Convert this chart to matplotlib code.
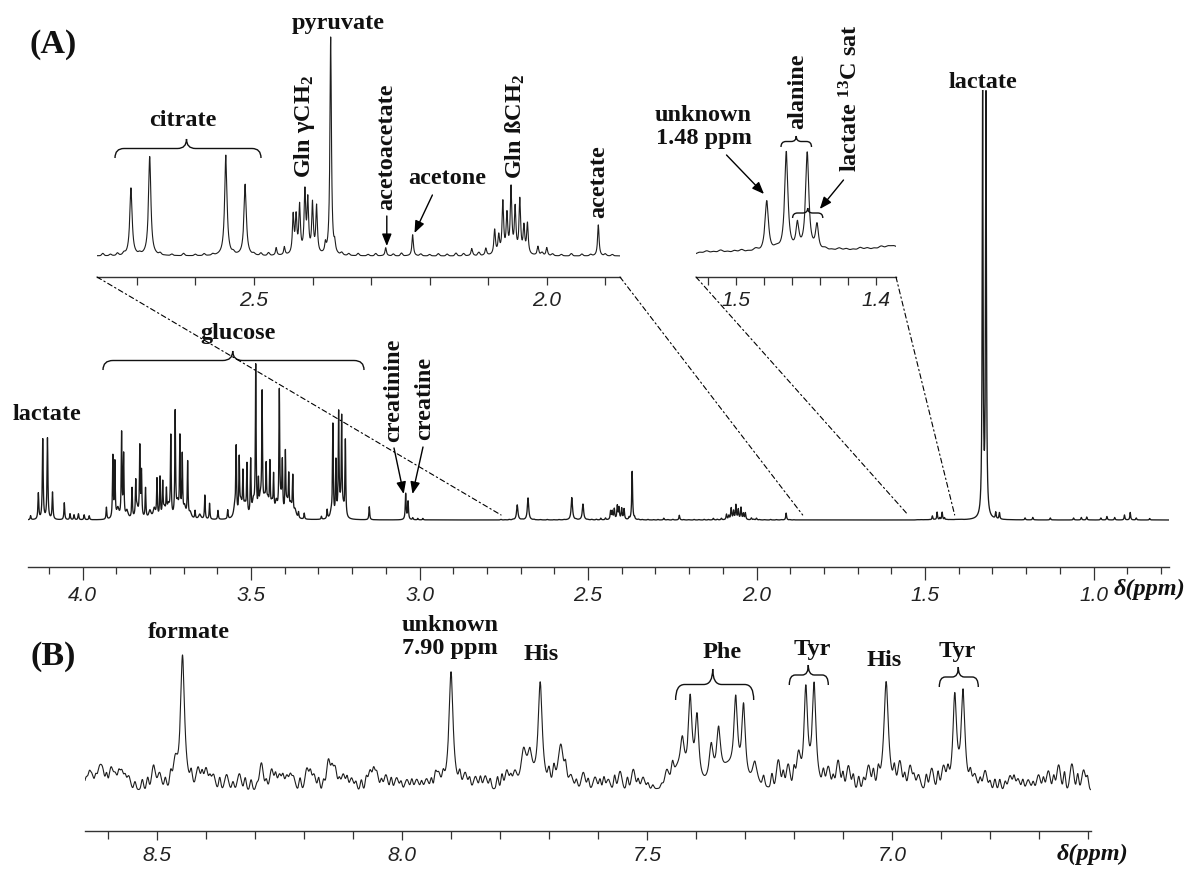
import numpy as np
import matplotlib
matplotlib.use("Agg")
import matplotlib.pyplot as plt
from matplotlib.patches import ConnectionPatch, PathPatch
from matplotlib.path import Path
from matplotlib.ticker import MultipleLocator, FormatStrFormatter

plt.rcParams["font.family"] = ["Liberation Serif", "DejaVu Serif"]
plt.rcParams["mathtext.fontset"] = "custom"
plt.rcParams["mathtext.bf"] = "Liberation Serif:bold"
plt.rcParams["mathtext.rm"] = "Liberation Serif:bold"

W, H = 1192, 869

# ---- panel A peak lists (ppm, height on the main trace) ----
lactate_ppm = [4.131, 4.118, 4.104, 4.089, 1.329, 1.319]
lactate_h = [26, 80, 81, 27, 423, 420]

glucose_ppm = [3.929, 3.910, 3.904, 3.884, 3.878, 3.853, 3.842, 3.830, 3.825, 3.813,
               3.779, 3.770, 3.762, 3.751, 3.738, 3.725, 3.711, 3.704, 3.688, 3.666,
               3.637, 3.623, 3.598, 3.569, 3.544, 3.535, 3.524, 3.512, 3.501, 3.486,
               3.478, 3.467, 3.455, 3.444, 3.433, 3.416, 3.407, 3.398, 3.388, 3.376,
               3.359, 3.342, 3.291, 3.274, 3.257, 3.248, 3.240, 3.231, 3.220]
glucose_h = [12, 62, 55, 84, 62, 30, 34, 70, 45, 30,
             38, 40, 33, 24, 80, 104, 78, 60, 55, 8,
             24, 16, 9, 9, 66, 55, 40, 50, 55, 148,
             30, 116, 42, 48, 36, 120, 48, 60, 36, 38,
             6, 6, 3, 9, 92, 55, 100, 95, 76]
# broader overlapping lines under the glucose multiplets
glucose_fill_ppm = [3.895, 3.868, 3.838, 3.800, 3.787, 3.757, 3.745, 3.718, 3.697, 3.680,
                    3.652, 3.548, 3.530, 3.518, 3.493, 3.472, 3.460, 3.450, 3.438, 3.425,
                    3.411, 3.393, 3.382, 3.369, 3.262, 3.236, 3.226]
glucose_fill_h = [10, 8, 10, 8, 10, 9, 12, 14, 11, 6,
                  5, 12, 14, 12, 15, 17, 15, 14, 12, 14,
                  15, 13, 12, 8, 6, 10, 8]

citrate_ppm = [2.710, 2.678, 2.548, 2.515]
citrate_h = [15.0, 22.0, 22.3, 15.8]

gln_ppm = [2.433, 2.428, 2.422, 2.413, 2.408, 2.400, 2.393,
           2.128, 2.104, 2.089, 2.082, 2.075, 2.068, 2.061, 2.054, 2.046, 2.039, 2.033, 2.015, 2.000]
gln_h = [8.5, 8.0, 10.5, 13.5, 11.5, 11.0, 10.5,
         1.6, 1.6, 5.5, 4.0, 11.5, 8.5, 14.5, 10.0, 12.0, 6.0, 6.8, 2.0, 1.8]

# pyruvate, acetoacetate, acetone, acetate, creatinine, creatine, unknown 1.48
singlet_ppm = [2.369, 2.275, 2.229, 1.912, 3.041, 3.034, 1.478]
singlet_h = [48.4, 1.8, 4.7, 6.9, 26, 18, 4.0]

alanine_ppm = [1.464, 1.449]
alanine_h = [7.7, 7.6]
lac_sat_ppm = [1.456, 1.442]
lac_sat_h = [2.0, 2.0]

small_ppm = [4.154, 4.054, 4.037, 4.025, 4.012, 3.995, 3.980, 3.149, 3.020, 3.005,
             2.990, 2.462, 2.448, 2.378, 2.362, 1.290, 1.279, 1.203, 1.180, 1.128,
             1.059, 1.036, 1.020, 0.978, 0.960, 0.937, 0.908, 0.891, 0.873, 0.833]
small_h = [4, 17, 6, 5, 6, 5, 4, 13, 2, 1.5,
           1.5, 1.7, 1.8, 2, 2, 6.5, 6.5, 2, 2.5, 2,
           2, 2.5, 3, 2, 3.5, 2.5, 5, 7.5, 2, 1.5]

# baseline ripple visible in the expansions
ripple_ppm = [2.758, 2.745, 2.733, 2.722, 2.695, 2.660, 2.640, 2.620, 2.600, 2.585,
              2.570, 2.535, 2.500, 2.488, 2.475, 2.350, 2.338, 2.322, 2.305, 2.292,
              2.262, 2.248, 2.215, 2.200, 2.185, 2.170, 2.155, 2.142, 2.116, 2.008,
              1.990, 1.975, 1.958, 1.940, 1.925, 1.900, 1.888,
              1.526, 1.521, 1.516, 1.511, 1.506, 1.501, 1.496, 1.491, 1.486, 1.471,
              1.436, 1.431, 1.426, 1.421, 1.416, 1.411, 1.406, 1.401, 1.396, 1.391, 1.387]
ripple_h = [0.5, 0.3, 0.5, 0.4, 0.3, 0.4, 0.3, 0.5, 0.3, 0.4,
            0.3, 0.4, 0.3, 0.5, 0.6, 0.5, 0.4, 0.5, 0.3, 0.5,
            0.4, 0.6, 0.4, 0.3, 0.5, 0.4, 0.6, 0.5, 0.7, 0.6,
            0.4, 0.3, 0.5, 0.4, 0.3, 0.4, 0.3,
            0.15, 0.25, 0.2, 0.3, 0.2, 0.25, 0.3, 0.2, 0.3, 0.25,
            0.25, 0.2, 0.3, 0.25, 0.2, 0.3, 0.25, 0.2, 0.3, 0.25, 0.2]

# ---- panel B (aromatic region) ----
b_peak_ppm = [8.448, 7.900, 7.752, 7.739, 7.718, 7.676, 7.428, 7.412, 7.398, 7.369,
              7.354, 7.319, 7.303, 7.280, 7.176, 7.159, 7.012, 6.872, 6.855]
b_peak_h = [135, 118, 30, 24, 104, 44, 36, 84, 66, 38,
            52, 80, 78, 24, 98, 101, 108, 91, 95]
b_peak_w = [0.005, 0.005, 0.006, 0.005, 0.005, 0.007, 0.005, 0.0045, 0.0045, 0.005,
            0.005, 0.0045, 0.0045, 0.006, 0.0045, 0.0045, 0.0055, 0.0045, 0.0045]
b_hump_ppm = [7.440, 7.335, 7.745]
b_hump_h = [16, 16, 8]
b_noise_ppm = [8.644, 8.633, 8.618, 8.611, 8.594, 8.585, 8.572, 8.558, 8.507, 8.495,
               8.463, 8.416, 8.400, 8.385, 8.358, 8.332, 8.287, 8.266, 8.250, 8.235,
               8.222, 8.194, 8.180, 8.150, 8.137, 8.120, 8.103, 8.065, 8.052, 8.033,
               8.011, 7.990, 7.970, 7.950, 7.926, 7.871, 7.850, 7.830, 7.786, 7.770,
               7.655, 7.630, 7.606, 7.579, 7.555, 7.528, 7.508, 7.460, 7.232, 7.212,
               7.191, 7.130, 7.110, 7.089, 7.048, 6.984, 6.963, 6.946, 6.919, 6.895,
               6.831, 6.810, 6.759, 6.743, 6.722, 6.701, 6.681, 6.660, 6.633, 6.609]
b_noise_h = [13, 16, 20, 19, 22, 16, 20, 14, 24, 16,
             22, 20, 21, 15, 15, 16, 27, 21, 16, 15,
             14, 22, 16, 31, 24, 16, 12, 20, 19, 15,
             12, 10, 10, 10, 14, 14, 12, 13, 18, 14,
             10, 16, 12, 10, 18, 20, 12, 14, 28, 23,
             29, 20, 28, 23, 22, 25, 23, 14, 20, 20,
             12, 18, 14, 11, 10, 15, 19, 25, 26, 20]
# finer jitter riding on the baseline
b_jitter_ppm = [8.638, 8.625, 8.603, 8.578, 8.565, 8.545, 8.530, 8.519, 8.483, 8.472,
                8.430, 8.408, 8.392, 8.372, 8.345, 8.320, 8.308, 8.296, 8.277, 8.258,
                8.243, 8.228, 8.208, 8.187, 8.170, 8.160, 8.143, 8.128, 8.112, 8.094,
                8.083, 8.073, 8.058, 8.042, 8.022, 8.002, 7.980, 7.960, 7.940, 7.932,
                7.916, 7.882, 7.862, 7.840, 7.820, 7.805, 7.796, 7.778, 7.700, 7.690,
                7.666, 7.644, 7.620, 7.596, 7.588, 7.566, 7.540, 7.518, 7.498, 7.488,
                7.470, 7.448, 7.262, 7.245, 7.222, 7.200, 7.140, 7.120, 7.100, 7.079,
                7.068, 7.058, 7.038, 7.028, 6.995, 6.974, 6.955, 6.930, 6.906, 6.886,
                6.840, 6.820, 6.800, 6.790, 6.780, 6.769, 6.751, 6.733, 6.712, 6.691,
                6.670, 6.648, 6.621, 6.601]
b_jitter_h = [9, 11, 14, 12, 10, 8, 10, 12, 10, 14,
              12, 14, 10, 12, 8, 12, 10, 6, 10, 14,
              12, 10, 12, 14, 12, 10, 14, 10, 12, 8,
              10, 12, 14, 10, 12, 8, 10, 8, 10, 12,
              10, 12, 10, 12, 10, 12, 14, 10, 12, 14,
              14, 8, 10, 10, 12, 14, 12, 10, 6, 4,
              4, 12, 10, 14, 16, 18, 14, 12, 16, 14,
              12, 10, 16, 14, 16, 14, 12, 14, 16, 14,
              12, 10, 8, 10, 10, 8, 12, 10, 8, 12,
              14, 18, 16, 12]


def lorentz(x, ppm, h, w):
    y = np.zeros_like(x)
    ws = np.broadcast_to(np.asarray(w, dtype=float), (len(ppm),))
    for p, a, hw in zip(ppm, h, ws):
        y += a * hw**2 / ((x - p) ** 2 + hw**2)
    return y


def gauss(x, ppm, h, s):
    y = np.zeros_like(x)
    for p, a in zip(ppm, h):
        y += a * np.exp(-((x - p) ** 2) / (2 * s**2))
    return y


def panel_a(x):
    y = lorentz(x, lactate_ppm, lactate_h, 0.0015)
    y += lorentz(x, glucose_ppm, glucose_h, 0.0013)
    y += lorentz(x, glucose_fill_ppm, glucose_fill_h, 0.004)
    y += lorentz(x, citrate_ppm, citrate_h, 0.0024)
    y += lorentz(x, gln_ppm, gln_h, 0.0016)
    y += lorentz(x, singlet_ppm, singlet_h, 0.0015)
    y += lorentz(x, alanine_ppm, alanine_h, 0.0014)
    y += lorentz(x, lac_sat_ppm, lac_sat_h, 0.0013)
    y += lorentz(x, small_ppm, small_h, 0.0014)
    y += gauss(x, ripple_ppm, ripple_h, 0.0018)
    return y


def panel_b(x):
    y = lorentz(x, b_peak_ppm, b_peak_h, b_peak_w)
    y += gauss(x, b_hump_ppm, b_hump_h, 0.012)
    y += gauss(x, b_noise_ppm, b_noise_h, 0.0038)
    y += gauss(x, b_jitter_ppm, b_jitter_h, 0.0022)
    return y


fig = plt.figure(figsize=(W / 100, H / 100), dpi=100)


def px_axes(x0, y0, x1, y1):
    ax = fig.add_axes([x0 / W, 1 - y1 / H, (x1 - x0) / W, (y1 - y0) / H])
    ax.patch.set_alpha(0)
    for s in ("left", "right", "top"):
        ax.spines[s].set_visible(False)
    ax.spines["bottom"].set_color("#333333")
    ax.spines["bottom"].set_linewidth(1.0)
    ax.set_yticks([])
    return ax


def style_ticks(ax, major, minor, maj_len, min_len, size):
    ax.xaxis.set_major_locator(MultipleLocator(major))
    ax.xaxis.set_minor_locator(MultipleLocator(minor))
    ax.xaxis.set_major_formatter(FormatStrFormatter("%.1f"))
    ax.tick_params(axis="x", which="major", direction="out", length=maj_len,
                   width=0.9, color="#333333", pad=4, labelsize=size,
                   labelcolor="#222222")
    ax.tick_params(axis="x", which="minor", direction="out", length=min_len,
                   width=0.9, color="#333333")
    for lab in ax.get_xticklabels():
        lab.set_family("Liberation Sans")
        lab.set_fontstyle("italic")


line_kw = dict(color="#1e1e1e", lw=0.8)

# main trace of panel A
ax = px_axes(27.6, 90, 1169, 567)
xa = np.linspace(0.776, 4.163, 60000)
ax.plot(xa, panel_a(xa), color="#1a1a1a", lw=0.95)
ax.set_xlim(4.163, 0.776)
ax.set_ylim(-47, 430)
style_ticks(ax, 0.5, 0.1, 9.4, 5.0, 15)

# expansion 2.77 - 1.87 ppm (x4.5)
ax1 = px_axes(97, 30, 620, 277)
x1 = np.linspace(1.875, 2.768, 20000)
ax1.plot(x1, panel_a(x1), **line_kw)
ax1.set_xlim(2.768, 1.875)
ax1.set_ylim(-21 / 4.5, 226 / 4.5)
style_ticks(ax1, 0.5, 0.1, 5.8, 5.8, 15)

# expansion 1.53 - 1.385 ppm (x13)
ax2 = px_axes(696, 30, 896, 277)
x2 = np.linspace(1.3854, 1.5287, 8000)
ax2.plot(x2, panel_a(x2), **line_kw)
ax2.set_xlim(1.5287, 1.3854)
ax2.set_ylim(-22 / 13, 225 / 13)
style_ticks(ax2, 0.1, 0.02, 5.8, 5.8, 15)

# panel B
axb = px_axes(85, 640, 1090.5, 831)
xb = np.linspace(6.595, 8.647, 30000)
axb.plot(xb, panel_b(xb), **line_kw)
axb.set_xlim(8.647, 6.595)
axb.set_ylim(-41, 150)
style_ticks(axb, 0.5, 0.1, 6.5, 5.5, 15)

# dash-dot zoom guides: expansion edges -> main trace
dashdot = (0, (4.5, 2.7, 1.3, 2.7))
for axi, fx, ppm in [(ax1, 0, 2.758), (ax1, 1, 1.863), (ax2, 0, 1.55), (ax2, 1, 1.412)]:
    con = ConnectionPatch(xyA=(fx, 0), coordsA="axes fraction", axesA=axi,
                          xyB=(ppm, 5), coordsB="data", axesB=ax,
                          color="k", lw=0.8, linestyle=dashdot)
    fig.add_artist(con)

# annotation layer in pixel coordinates
ov = fig.add_axes([0, 0, 1, 1])
ov.set_xlim(0, W)
ov.set_ylim(H, 0)
ov.axis("off")
ov.patch.set_alpha(0)

lab = dict(family="Liberation Serif", weight="bold", size=17.5, color="#111111",
           ha="center", va="center")
big = dict(lab, size=24.5)

ov.text(53.5, 45, "(A)", **big)
ov.text(53, 657, "(B)", **big)

ov.text(338, 24, "pyruvate", **lab)
ov.text(183, 121, "citrate", **lab)
ov.text(304.5, 127, r"Gln γCH$\mathbf{_2}$", rotation=90, **lab)
ov.text(387, 147, "acetoacetate", rotation=90, **lab)
ov.text(447, 178, "acetone", **lab)
ov.text(515, 127, r"Gln ßCH$\mathbf{_2}$", rotation=90, **lab)
ov.text(599, 182, "acetate", rotation=90, **lab)
ov.text(703.5, 127, "unknown\n1.48 ppm", linespacing=1.1, **lab)
ov.text(798, 91, "alanine", rotation=90, **lab)
ov.text(851, 98, r"lactate $\mathbf{^{13}}$C sat", rotation=90, **lab)
ov.text(983, 83, "lactate", **lab)
ov.text(47, 414, "lactate", **lab)
ov.text(238, 333, "glucose", **lab)
ov.text(394, 390, "creatinine", rotation=90, **lab)
ov.text(425, 398, "creatine", rotation=90, **lab)

ov.text(189, 633, "formate", **lab)
ov.text(450, 637, "unknown\n7.90 ppm", linespacing=1.1, **lab)
ov.text(541, 654, "His", **lab)
ov.text(722, 653, "Phe", **lab)
ov.text(812, 650, "Tyr", **lab)
ov.text(884, 660, "His", **lab)
ov.text(957, 652, "Tyr", **lab)

ppm_kw = dict(family="Liberation Serif", weight="bold", style="italic", size=17.5,
              color="#111111", ha="left", va="center")
ov.text(1114, 589, "δ(ppm)", **ppm_kw)
ov.text(1057, 854, "δ(ppm)", **ppm_kw)


def brace(x0, x1, y_arm, y_tip, xc=None, r=7):
    if xc is None:
        xc = (x0 + x1) / 2
    ym = (y_arm + y_tip) / 2
    verts = [(x0, y_arm), (x0, ym), (x0 + r, ym), (xc - r, ym), (xc, ym), (xc, y_tip),
             (xc, ym), (xc + r, ym), (x1 - r, ym), (x1, ym), (x1, y_arm)]
    codes = [Path.MOVETO, Path.CURVE3, Path.CURVE3, Path.LINETO, Path.CURVE3, Path.CURVE3,
             Path.CURVE3, Path.CURVE3, Path.LINETO, Path.CURVE3, Path.CURVE3]
    ov.add_patch(PathPatch(Path(verts, codes), fill=False, lw=1.0, color="#111111"))


brace(115, 261, 158, 139, xc=186.5, r=9)
brace(103, 364, 370, 351, xc=232.7, r=10)
brace(781, 811.5, 147, 136, r=5)
brace(792.6, 822.8, 218, 208, r=5)
brace(675.6, 753.7, 700, 669, xc=712.7, r=9)
brace(789.3, 828.3, 685, 665, xc=808.3, r=6)
brace(939.3, 978.3, 687, 667, xc=958.3, r=6)

arrow = dict(arrowstyle="-|>,head_length=0.45,head_width=0.18", color="k", lw=1.0,
             shrinkA=0, shrinkB=0, mutation_scale=16)
for tail, tip in [((386.8, 216), (386.8, 246)), ((432.4, 195), (414.5, 233)),
                  ((726.5, 155), (764, 194)), ((843.5, 180), (819.8, 209)),
                  ((394, 448), (403.7, 494)), ((423, 447), (412.5, 494))]:
    ov.annotate("", xy=tip, xytext=tail, arrowprops=arrow)

fig.savefig("out.png", dpi=100)
